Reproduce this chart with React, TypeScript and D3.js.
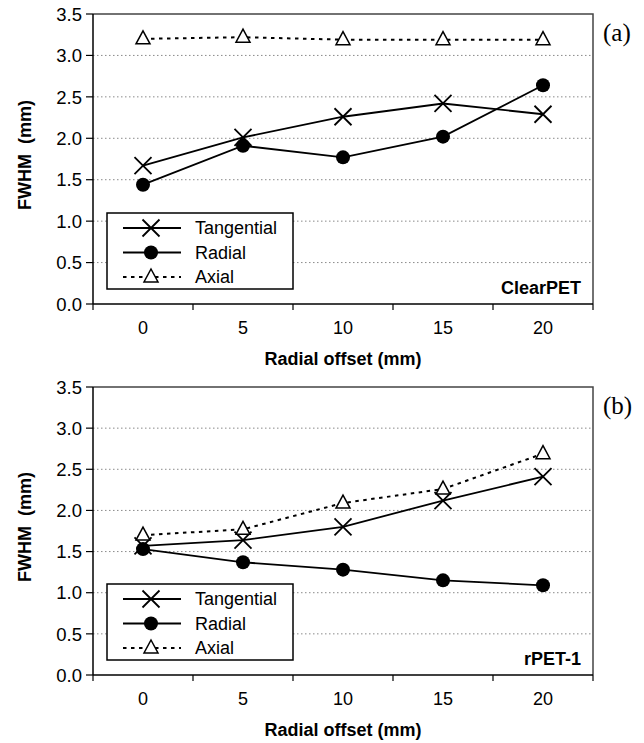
import React from "react";
import * as d3 from "d3";

// radial offsets (mm) used as categories on the x axis
const categories = ["0", "5", "10", "15", "20"];
const yTicks = [0, 0.5, 1, 1.5, 2, 2.5, 3, 3.5];
const seriesNames = ["Tangential", "Radial", "Axial"];

// (a) ClearPET
const clearTangential = [1.67, 2.01, 2.26, 2.42, 2.29];
const clearRadial = [1.44, 1.91, 1.77, 2.02, 2.64];
const clearAxial = [3.2, 3.22, 3.19, 3.19, 3.19];

// (b) rPET-1
const rpetTangential = [1.57, 1.64, 1.8, 2.12, 2.41];
const rpetRadial = [1.53, 1.37, 1.28, 1.15, 1.09];
const rpetAxial = [1.7, 1.77, 2.09, 2.26, 2.69];

const W = 644,
  H = 743;
const sans = "'Liberation Sans', Arial, sans-serif";
const serif = "'Liberation Serif', 'Times New Roman', serif";

const Marker = ({ kind, x, y }: { kind: string; x: number; y: number }) => {
  if (kind === "Tangential") {
    const s = 8.5;
    return (
      <path
        d={`M${x - s},${y - s}L${x + s},${y + s}M${x - s},${y + s}L${x + s},${y - s}`}
        stroke="#000"
        strokeWidth={1.8}
        fill="none"
      />
    );
  }
  if (kind === "Radial") return <circle cx={x} cy={y} r={7} fill="#000" />;
  return (
    <path
      d={`M${x},${y - 8}L${x + 7},${y + 5}L${x - 7},${y + 5}Z`}
      fill="#fff"
      stroke="#000"
      strokeWidth={1.5}
    />
  );
};

const Panel = ({
  top,
  bottom,
  series,
  name,
  letter,
}: {
  top: number;
  bottom: number;
  series: number[][];
  name: string;
  letter: string;
}) => {
  const left = 93,
    right = 593;
  const x = d3.scaleBand().domain(categories).range([left, right]);
  const y = d3.scaleLinear().domain([0, 3.5]).range([bottom, top]);
  const cx = (c: string) => (x(c) as number) + x.bandwidth() / 2;
  const line = d3
    .line<number>()
    .x((_, i) => cx(categories[i]))
    .y((d) => y(d));
  const boundaries = categories.map((c) => x(c) as number).concat([right]);
  const midY = (top + bottom) / 2;

  const lx = 107,
    ly = bottom - 91;

  return (
    <g>
      {/* grid */}
      {yTicks
        .filter((t) => t > 0 && t < 3.5)
        .map((t) => (
          <line
            key={t}
            x1={left}
            x2={right}
            y1={y(t)}
            y2={y(t)}
            stroke="#8a8a8a"
            strokeWidth={1}
            strokeDasharray="1.5,2.5"
          />
        ))}
      {/* frame */}
      <path
        d={`M${left},${top}H${right}V${bottom}`}
        fill="none"
        stroke="#444"
        strokeWidth={1.5}
      />
      {/* series lines */}
      {series.map((s, i) => (
        <path
          key={i}
          d={line(s) as string}
          fill="none"
          stroke="#000"
          strokeWidth={i === 2 ? 2 : 1.8}
          strokeDasharray={i === 2 ? "3.5,4.5" : undefined}
        />
      ))}
      {series.map((s, i) =>
        s.map((v, j) => (
          <Marker key={`${i}-${j}`} kind={seriesNames[i]} x={cx(categories[j])} y={y(v)} />
        ))
      )}
      {/* y axis */}
      <line x1={left} x2={left} y1={top} y2={bottom} stroke="#000" strokeWidth={1.5} />
      {yTicks.map((t) => (
        <g key={t}>
          <line x1={left - 7} x2={left} y1={y(t)} y2={y(t)} stroke="#000" strokeWidth={1.2} />
          <text
            x={left - 11}
            y={y(t)}
            dy="0.36em"
            textAnchor="end"
            fontFamily={sans}
            fontSize={18.5}
          >
            {t.toFixed(1)}
          </text>
        </g>
      ))}
      <text
        transform={`translate(31,${midY - 4}) rotate(-90)`}
        textAnchor="middle"
        fontFamily={sans}
        fontSize={18}
        fontWeight="bold"
        style={{ whiteSpace: "pre" }}
      >
        {"FWHM  (mm)"}
      </text>
      {/* x axis */}
      <line x1={left} x2={right} y1={bottom} y2={bottom} stroke="#000" strokeWidth={1.5} />
      {boundaries.map((b, i) => (
        <line key={i} x1={b} x2={b} y1={bottom} y2={bottom + 6} stroke="#000" strokeWidth={1.2} />
      ))}
      {categories.map((c) => (
        <text
          key={c}
          x={cx(c)}
          y={bottom + 30}
          textAnchor="middle"
          fontFamily={sans}
          fontSize={18}
        >
          {c}
        </text>
      ))}
      <text
        x={(left + right) / 2}
        y={bottom + 61}
        textAnchor="middle"
        fontFamily={sans}
        fontSize={18}
        fontWeight="bold"
      >
        Radial offset (mm)
      </text>
      {/* legend */}
      <rect x={lx} y={ly} width={186} height={76} fill="#fff" stroke="#000" strokeWidth={1.5} />
      {seriesNames.map((n, i) => {
        const ry = ly + 15 + i * 24.5;
        return (
          <g key={n}>
            <line
              x1={lx + 16}
              x2={lx + 74}
              y1={ry}
              y2={ry}
              stroke="#000"
              strokeWidth={i === 2 ? 2 : 1.8}
              strokeDasharray={i === 2 ? "3.5,4.5" : undefined}
            />
            <Marker kind={n} x={lx + 44} y={ry} />
            <text x={lx + 88} y={ry} dy="0.36em" fontFamily={sans} fontSize={18}>
              {n}
            </text>
          </g>
        );
      })}
      <text
        x={right - 12}
        y={bottom - 10}
        textAnchor="end"
        fontFamily={sans}
        fontSize={18}
        fontWeight="bold"
      >
        {name}
      </text>
      <text x={603} y={top + 27} fontFamily={serif} fontSize={25}>
        {letter}
      </text>
    </g>
  );
};

export default function App() {
  return (
    <svg
      width={W}
      height={H}
      style={{ position: "absolute", left: 0, top: 0, background: "#fff" }}
    >
      <rect width={W} height={H} fill="#fff" />
      <Panel
        top={14}
        bottom={304}
        series={[clearTangential, clearRadial, clearAxial]}
        name="ClearPET"
        letter="(a)"
      />
      <Panel
        top={387}
        bottom={675}
        series={[rpetTangential, rpetRadial, rpetAxial]}
        name="rPET-1"
        letter="(b)"
      />
    </svg>
  );
}
